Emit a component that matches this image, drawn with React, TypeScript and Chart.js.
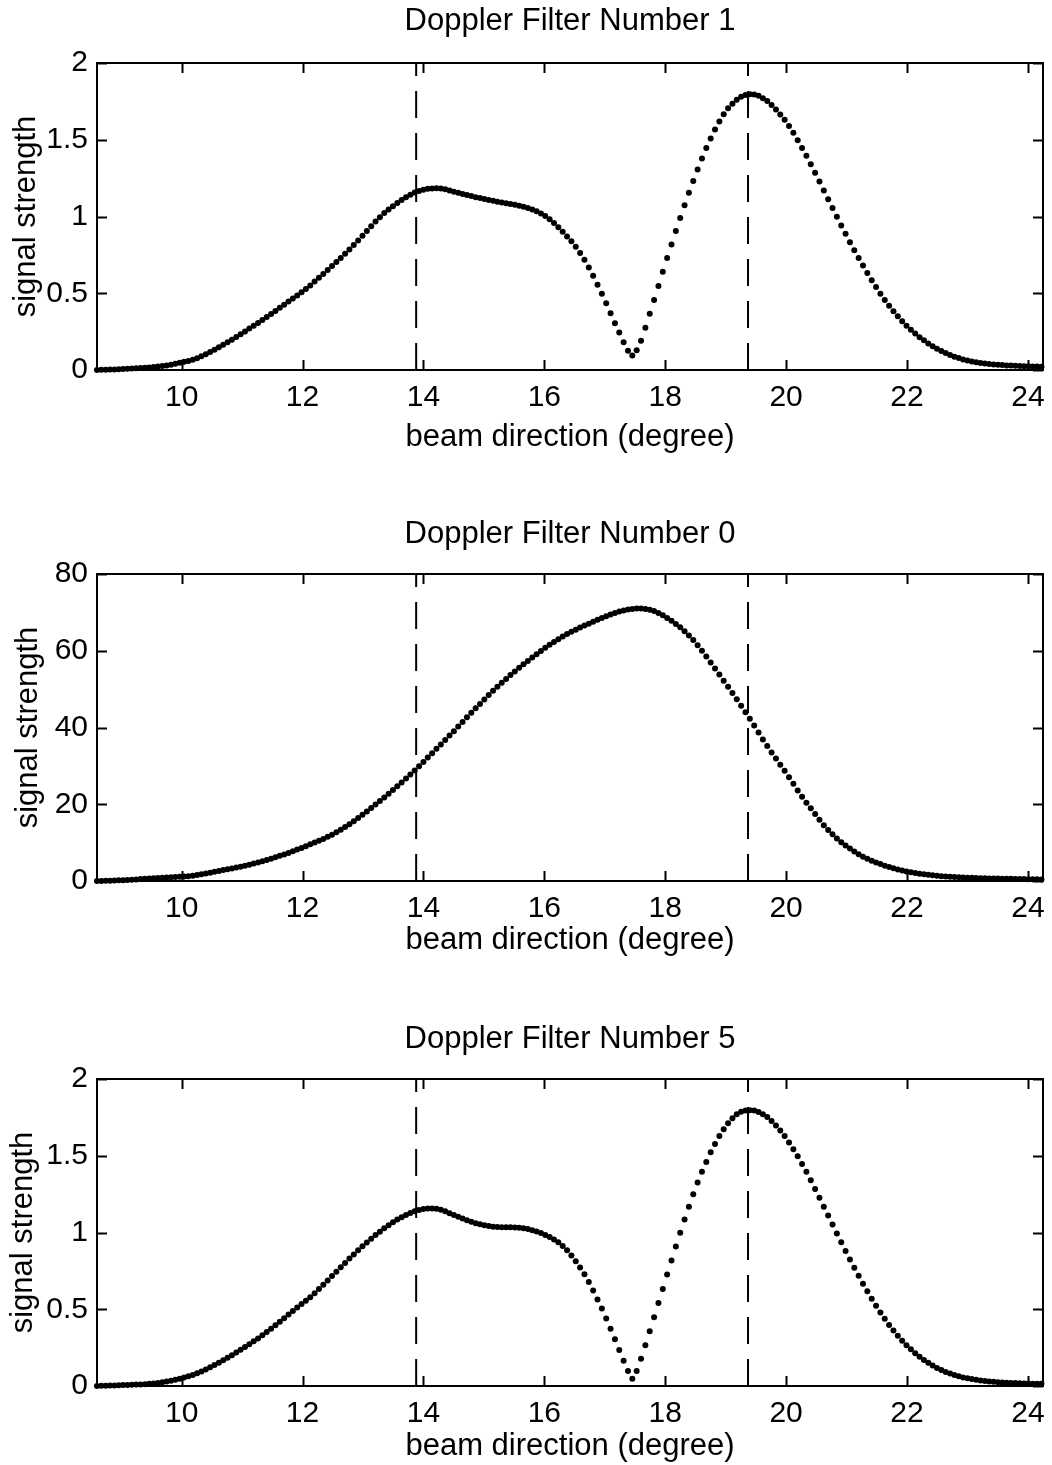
import React, { useEffect, useRef } from "react";
import { Chart, registerables } from "chart.js";

Chart.register(...registerables);

// beam direction sample positions (degree)
const BEAM_DIRECTION = [
  8.6, 8.672, 8.744, 8.816, 8.888, 8.96, 9.032, 9.104, 9.176, 9.248,
  9.32, 9.392, 9.464, 9.536, 9.608, 9.68, 9.752, 9.824, 9.896, 9.968,
  10.04, 10.112, 10.184, 10.256, 10.328, 10.4, 10.472, 10.544, 10.616, 10.688,
  10.76, 10.832, 10.904, 10.976, 11.048, 11.12, 11.192, 11.264, 11.336, 11.408,
  11.48, 11.552, 11.624, 11.696, 11.768, 11.84, 11.912, 11.984, 12.056, 12.128,
  12.2, 12.272, 12.344, 12.416, 12.488, 12.56, 12.632, 12.704, 12.776, 12.848,
  12.92, 12.992, 13.064, 13.136, 13.208, 13.28, 13.352, 13.424, 13.496, 13.568,
  13.64, 13.712, 13.784, 13.856, 13.928, 14.0, 14.072, 14.144, 14.216, 14.288,
  14.36, 14.432, 14.504, 14.576, 14.648, 14.72, 14.792, 14.864, 14.936, 15.008,
  15.08, 15.152, 15.224, 15.296, 15.368, 15.44, 15.512, 15.584, 15.656, 15.728,
  15.8, 15.872, 15.944, 16.016, 16.088, 16.16, 16.232, 16.304, 16.376, 16.448,
  16.52, 16.592, 16.664, 16.736, 16.808, 16.88, 16.952, 17.024, 17.096, 17.168,
  17.24, 17.312, 17.384, 17.456, 17.528, 17.6, 17.672, 17.744, 17.816, 17.888,
  17.96, 18.032, 18.104, 18.176, 18.248, 18.32, 18.392, 18.464, 18.536, 18.608,
  18.68, 18.752, 18.824, 18.896, 18.968, 19.04, 19.112, 19.184, 19.256, 19.328,
  19.4, 19.472, 19.544, 19.616, 19.688, 19.76, 19.832, 19.904, 19.976, 20.048,
  20.12, 20.192, 20.264, 20.336, 20.408, 20.48, 20.552, 20.624, 20.696, 20.768,
  20.84, 20.912, 20.984, 21.056, 21.128, 21.2, 21.272, 21.344, 21.416, 21.488,
  21.56, 21.632, 21.704, 21.776, 21.848, 21.92, 21.992, 22.064, 22.136, 22.208,
  22.28, 22.352, 22.424, 22.496, 22.568, 22.64, 22.712, 22.784, 22.856, 22.928,
  23.0, 23.072, 23.144, 23.216, 23.288, 23.36, 23.432, 23.504, 23.576, 23.648,
  23.72, 23.792, 23.864, 23.936, 24.008, 24.08, 24.152, 24.224,
];

// Doppler Filter Number 1
const FILTER1_STRENGTH = [
  0.0, 0.001, 0.002, 0.003, 0.004, 0.005, 0.006, 0.008, 0.01, 0.011,
  0.013, 0.015, 0.017, 0.019, 0.022, 0.026, 0.03, 0.035, 0.041, 0.047,
  0.053, 0.059, 0.066, 0.076, 0.089, 0.103, 0.118, 0.132, 0.148, 0.164,
  0.18, 0.197, 0.215, 0.233, 0.251, 0.27, 0.288, 0.306, 0.325, 0.345,
  0.365, 0.385, 0.405, 0.425, 0.446, 0.466, 0.486, 0.506, 0.527, 0.551,
  0.576, 0.601, 0.626, 0.652, 0.677, 0.703, 0.729, 0.757, 0.785, 0.814,
  0.843, 0.874, 0.905, 0.936, 0.967, 0.995, 1.022, 1.045, 1.067, 1.088,
  1.107, 1.125, 1.141, 1.156, 1.166, 1.174, 1.18, 1.183, 1.184, 1.183,
  1.178, 1.17, 1.162, 1.154, 1.147, 1.14, 1.133, 1.126, 1.12, 1.114,
  1.108, 1.102, 1.096, 1.091, 1.086, 1.081, 1.076, 1.07, 1.063, 1.055,
  1.046, 1.034, 1.02, 1.004, 0.982, 0.958, 0.93, 0.9, 0.87, 0.838,
  0.803, 0.762, 0.719, 0.668, 0.614, 0.556, 0.497, 0.435, 0.37, 0.305,
  0.245, 0.18, 0.125, 0.095, 0.128, 0.19, 0.276, 0.366, 0.456, 0.548,
  0.64, 0.73, 0.818, 0.905, 0.99, 1.074, 1.155, 1.232, 1.307, 1.378,
  1.447, 1.508, 1.566, 1.619, 1.666, 1.705, 1.735, 1.76, 1.78, 1.792,
  1.797, 1.795, 1.786, 1.771, 1.752, 1.727, 1.697, 1.665, 1.63, 1.59,
  1.545, 1.497, 1.447, 1.396, 1.34, 1.285, 1.228, 1.17, 1.112, 1.055,
  0.998, 0.942, 0.887, 0.833, 0.78, 0.73, 0.68, 0.632, 0.585, 0.54,
  0.497, 0.456, 0.418, 0.383, 0.35, 0.318, 0.289, 0.262, 0.237, 0.214,
  0.193, 0.173, 0.155, 0.138, 0.123, 0.11, 0.098, 0.087, 0.078, 0.069,
  0.062, 0.056, 0.051, 0.046, 0.042, 0.039, 0.036, 0.034, 0.032, 0.03,
  0.029, 0.028, 0.026, 0.025, 0.024, 0.023, 0.022, 0.021,
];

// Doppler Filter Number 0
const FILTER0_STRENGTH = [
  0.0, 0.03, 0.06, 0.09, 0.13, 0.17, 0.22, 0.28, 0.35, 0.42,
  0.49, 0.56, 0.63, 0.7, 0.77, 0.84, 0.91, 0.97, 1.03, 1.09,
  1.15, 1.26, 1.4, 1.56, 1.76, 1.97, 2.18, 2.4, 2.62, 2.84,
  3.05, 3.27, 3.49, 3.73, 3.99, 4.25, 4.53, 4.81, 5.12, 5.45,
  5.8, 6.18, 6.55, 6.91, 7.32, 7.75, 8.18, 8.62, 9.08, 9.55,
  10.02, 10.5, 10.97, 11.5, 12.08, 12.7, 13.36, 14.05, 14.8, 15.58,
  16.4, 17.26, 18.13, 19.02, 19.93, 20.84, 21.76, 22.72, 23.7, 24.68,
  25.65, 26.7, 27.76, 28.8, 29.9, 31.0, 32.15, 33.3, 34.45, 35.6,
  36.75, 37.9, 39.05, 40.25, 41.45, 42.65, 43.85, 45.0, 46.15, 47.3,
  48.45, 49.55, 50.6, 51.65, 52.65, 53.65, 54.6, 55.55, 56.45, 57.35,
  58.25, 59.1, 59.95, 60.75, 61.55, 62.3, 63.0, 63.7, 64.35, 64.95,
  65.5, 66.05, 66.55, 67.05, 67.55, 68.05, 68.55, 69.0, 69.45, 69.85,
  70.2, 70.5, 70.75, 70.9, 71.0, 71.0, 70.9, 70.7, 70.35, 69.85,
  69.25, 68.55, 67.8, 67.0, 66.1, 65.1, 64.0, 62.8, 61.45, 60.0,
  58.5, 56.95, 55.4, 53.8, 52.2, 50.6, 49.0, 47.35, 45.65, 43.95,
  42.25, 40.5, 38.7, 36.9, 35.15, 33.5, 31.9, 30.3, 28.7, 27.05,
  25.35, 23.6, 21.95, 20.4, 18.95, 17.45, 15.95, 14.55, 13.3, 12.15,
  11.05, 10.1, 9.25, 8.45, 7.7, 7.0, 6.35, 5.8, 5.3, 4.85,
  4.4, 4.0, 3.65, 3.3, 3.0, 2.75, 2.5, 2.28, 2.08, 1.9,
  1.74, 1.6, 1.48, 1.37, 1.27, 1.18, 1.1, 1.03, 0.97, 0.91,
  0.86, 0.82, 0.78, 0.74, 0.71, 0.68, 0.65, 0.62, 0.6, 0.58,
  0.56, 0.54, 0.52, 0.5, 0.48, 0.46, 0.44, 0.42,
];

// Doppler Filter Number 5
const FILTER5_STRENGTH = [
  0.0, 0.001, 0.002, 0.003, 0.004, 0.005, 0.006, 0.007, 0.008, 0.009,
  0.01, 0.012, 0.014, 0.017, 0.02, 0.024, 0.029, 0.034, 0.04, 0.047,
  0.055, 0.063, 0.072, 0.083, 0.095, 0.108, 0.122, 0.136, 0.152, 0.168,
  0.184, 0.201, 0.218, 0.236, 0.254, 0.272, 0.291, 0.31, 0.33, 0.351,
  0.373, 0.395, 0.418, 0.441, 0.465, 0.489, 0.512, 0.534, 0.556, 0.578,
  0.605, 0.632, 0.66, 0.688, 0.716, 0.745, 0.774, 0.802, 0.83, 0.857,
  0.884, 0.91, 0.935, 0.96, 0.983, 1.005, 1.027, 1.047, 1.066, 1.084,
  1.1, 1.114, 1.127, 1.139, 1.147, 1.153, 1.157, 1.157, 1.154, 1.148,
  1.138, 1.126, 1.114, 1.102, 1.091, 1.08, 1.07, 1.061, 1.053, 1.047,
  1.042, 1.038, 1.036, 1.035, 1.034, 1.034, 1.033, 1.031, 1.027, 1.022,
  1.015, 1.006, 0.996, 0.984, 0.97, 0.955, 0.936, 0.912, 0.884, 0.85,
  0.812, 0.772, 0.728, 0.678, 0.622, 0.564, 0.505, 0.44, 0.373, 0.304,
  0.234, 0.165, 0.098, 0.047, 0.097, 0.178, 0.265, 0.356, 0.448, 0.54,
  0.632, 0.727, 0.818, 0.908, 0.998, 1.085, 1.168, 1.25, 1.325, 1.395,
  1.46, 1.522, 1.577, 1.628, 1.673, 1.712, 1.745, 1.77, 1.786, 1.795,
  1.797, 1.794, 1.785, 1.771, 1.752, 1.727, 1.697, 1.664, 1.628, 1.587,
  1.543, 1.496, 1.447, 1.395, 1.34, 1.283, 1.226, 1.168, 1.11, 1.052,
  0.994, 0.937, 0.88, 0.824, 0.77, 0.718, 0.666, 0.617, 0.569, 0.523,
  0.479, 0.438, 0.398, 0.361, 0.327, 0.295, 0.266, 0.239, 0.214, 0.191,
  0.17, 0.151, 0.134, 0.118, 0.104, 0.092, 0.081, 0.071, 0.063, 0.056,
  0.05, 0.045, 0.04, 0.036, 0.033, 0.03, 0.027, 0.025, 0.023, 0.021,
  0.02, 0.019, 0.018, 0.017, 0.016, 0.015, 0.015, 0.014,
];

const X_TICKS = [10, 12, 14, 16, 18, 20, 22, 24];
const X_RANGE = [8.6, 24.25];
const MARKER_DIRECTIONS = [13.88, 19.37];

const PANEL_TITLES = [
  "Doppler Filter Number 1",
  "Doppler Filter Number 0",
  "Doppler Filter Number 5",
];
const PANEL_SERIES = [FILTER1_STRENGTH, FILTER0_STRENGTH, FILTER5_STRENGTH];
const PANEL_Y_MAX = [2, 80, 2];
const PANEL_Y_STEP = [0.5, 20, 0.5];

const FONT = '"Liberation Sans", Arial, Helvetica, sans-serif';
const W = 1052;
const H = 470;

const framePlugin = {
  id: "matlabFrame",
  afterDatasetsDraw(chart: any) {
    const { ctx, chartArea, scales } = chart;
    const { left, right, top, bottom } = chartArea;
    const x = scales.x;
    const y = scales.y;
    ctx.save();
    ctx.strokeStyle = "#000";
    ctx.lineWidth = 2;
    ctx.strokeRect(left, top, right - left, bottom - top);
    ctx.beginPath();
    const tl = 10;
    x.ticks.forEach((t: any) => {
      const px = Math.round(x.getPixelForValue(t.value)) + 0.5;
      ctx.moveTo(px, bottom);
      ctx.lineTo(px, bottom - tl);
      ctx.moveTo(px, top);
      ctx.lineTo(px, top + tl);
    });
    y.ticks.forEach((t: any) => {
      const py = Math.round(y.getPixelForValue(t.value)) + 0.5;
      ctx.moveTo(left, py);
      ctx.lineTo(left + tl, py);
      ctx.moveTo(right, py);
      ctx.lineTo(right - tl, py);
    });
    ctx.stroke();
    ctx.restore();
  },
};

type PanelProps = {
  index: number;
  top: number;
  titlePadTop: number;
  yTitlePad: number;
  xTitlePad: number;
};

function Panel({ index, top, titlePadTop, yTitlePad, xTitlePad }: PanelProps) {
  const ref = useRef<HTMLCanvasElement | null>(null);
  useEffect(() => {
    if (!ref.current) return;
    const values = PANEL_SERIES[index];
    const yMax = PANEL_Y_MAX[index];
    const points = BEAM_DIRECTION.map((x, i) => ({ x, y: values[i] }));
    const markerSets = MARKER_DIRECTIONS.map((m) => ({
      type: "line" as const,
      data: [
        { x: m, y: 0 },
        { x: m, y: yMax },
      ],
      showLine: true,
      borderColor: "#000",
      borderWidth: 2,
      borderDash: [27, 15],
      borderCapStyle: "butt" as const,
      pointRadius: 0,
      fill: false,
      tension: 0,
    }));
    const chart = new Chart(ref.current, {
      type: "scatter",
      data: {
        datasets: [
          {
            data: points,
            showLine: false,
            pointRadius: 3,
            pointBackgroundColor: "#000",
            pointBorderWidth: 0,
            pointBorderColor: "#000",
            clip: 6,
          } as any,
          ...(markerSets as any[]),
        ],
      },
      options: {
        responsive: false,
        animation: false,
        devicePixelRatio: 1,
        events: [],
        layout: { padding: { left: 0, right: 9, top: 0, bottom: 0 } },
        plugins: {
          legend: { display: false },
          tooltip: { enabled: false },
          title: {
            display: true,
            text: PANEL_TITLES[index],
            color: "#000",
            fullSize: false,
            font: { family: FONT, size: 31, weight: "normal" as any },
            padding: { top: titlePadTop, bottom: 63 - titlePadTop - 37.2 },
          },
        },
        scales: {
          x: {
            type: "linear",
            min: X_RANGE[0],
            max: X_RANGE[1],
            grid: { display: false, drawTicks: false },
            border: { display: false },
            afterBuildTicks: (s: any) => {
              s.ticks = X_TICKS.map((v) => ({ value: v }));
            },
            afterFit: (s: any) => {
              s.height = 100;
              s.paddingLeft = 0;
              s.paddingRight = 0;
            },
            ticks: {
              color: "#000",
              font: { family: FONT, size: 30 },
              padding: 10,
              maxRotation: 0,
              autoSkip: false,
              callback: (v: any) => String(v),
            },
            title: {
              display: true,
              text: "beam direction (degree)",
              color: "#000",
              font: { family: FONT, size: 31 },
              padding: { top: 0, bottom: xTitlePad },
            },
          },
          y: {
            type: "linear",
            min: 0,
            max: yMax,
            grid: { display: false, drawTicks: false },
            border: { display: false },
            afterFit: (s: any) => {
              s.width = 97;
              s.paddingTop = 0;
              s.paddingBottom = 0;
            },
            ticks: {
              stepSize: PANEL_Y_STEP[index],
              color: "#000",
              font: { family: FONT, size: 30 },
              padding: 9,
              callback: (v: any) => String(v),
            },
            title: {
              display: true,
              text: "signal strength",
              color: "#000",
              font: { family: FONT, size: 31 },
              padding: { top: yTitlePad, bottom: 0 },
            },
          },
        },
      } as any,
      plugins: [framePlugin],
    });
    return () => chart.destroy();
  }, [index, titlePadTop, yTitlePad, xTitlePad]);
  return (
    <canvas
      ref={ref}
      width={W}
      height={H}
      style={{ position: "absolute", left: 0, top, width: W, height: H, display: "block" }}
    />
  );
}

export default function App() {
  return (
    <div
      style={{
        position: "absolute",
        left: 0,
        top: 0,
        width: W,
        height: 1465,
        overflow: "hidden",
        background: "#fff",
      }}
    >
      <Panel index={0} top={0} titlePadTop={3} yTitlePad={8} xTitlePad={14} />
      <Panel index={1} top={511} titlePadTop={5} yTitlePad={10} xTitlePad={22} />
      <Panel index={2} top={1016} titlePadTop={5} yTitlePad={5} xTitlePad={21} />
    </div>
  );
}
